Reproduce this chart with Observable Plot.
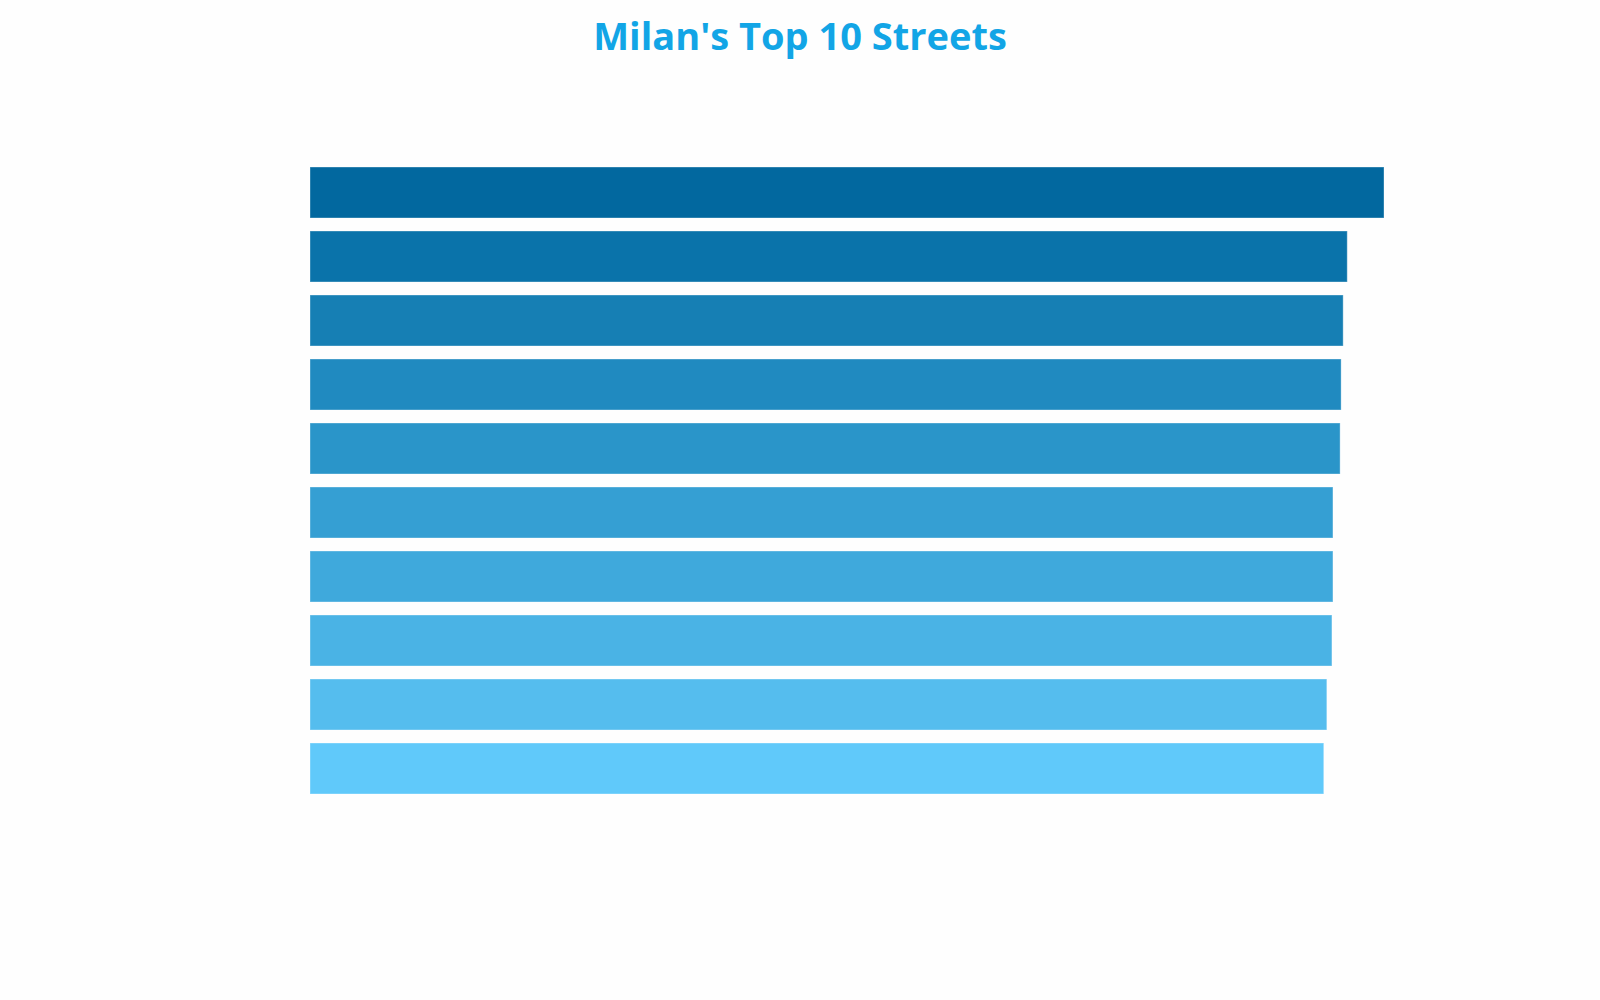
<!DOCTYPE html>
<html>
<head>
<meta charset="utf-8">
<script src="https://cdn.jsdelivr.net/npm/d3@7"></script>
<script src="https://cdn.jsdelivr.net/npm/@observablehq/plot@0.6"></script>
<style>
  html, body { margin: 0; padding: 0; background: #fefefe; }
  #wrap { position: relative; width: 1600px; height: 1000px; }
  #title { position: absolute; left: 0; top: 9px; width: 1600px; text-align: center;
    font-family: "Open Sans", "Noto Sans", sans-serif; font-weight: 700; font-size: 38px; color: #12a5e6; }
  #chart { position: absolute; left: 0; top: 0; }
</style>
</head>
<body>
<div id="wrap">
  <div id="title">Milan's Top 10 Streets</div>
  <div id="chart"></div>
</div>
<script>
const streets = [
  "Via Montenapoleone", "Via della Spiga", "Corso Vittorio Emanuele II", "Via Sant'Andrea",
  "Corso Buenos Aires", "Via Dante", "Corso Como", "Via Torino", "Corso di Porta Ticinese", "Via Brera"
];
const values = [1052, 1016, 1012, 1010, 1009, 1002, 1002, 1001, 996, 993];
const colors = ["#02689f", "#0a73aa", "#167fb4", "#208ac0", "#2a95c9", "#359fd3", "#3fa9dc", "#4ab3e5", "#55bdee", "#60c9fa"];

const data = streets.map((s, i) => ({street: s, value: values[i], color: colors[i]}));

const chart = Plot.plot({
  width: 1600,
  height: 1000,
  marginLeft: 310,
  marginRight: 216,
  marginTop: 153,
  marginBottom: 191,
  style: {background: "transparent"},
  x: {domain: [0, 1052], axis: null},
  y: {domain: streets, padding: 0.2, axis: null},
  marks: [
    Plot.barX(data, {x: "value", y: "street", fill: "color", stroke: "white", strokeOpacity: 0.35, strokeWidth: 1})
  ]
});
document.getElementById("chart").appendChild(chart);
</script>
</body>
</html>
